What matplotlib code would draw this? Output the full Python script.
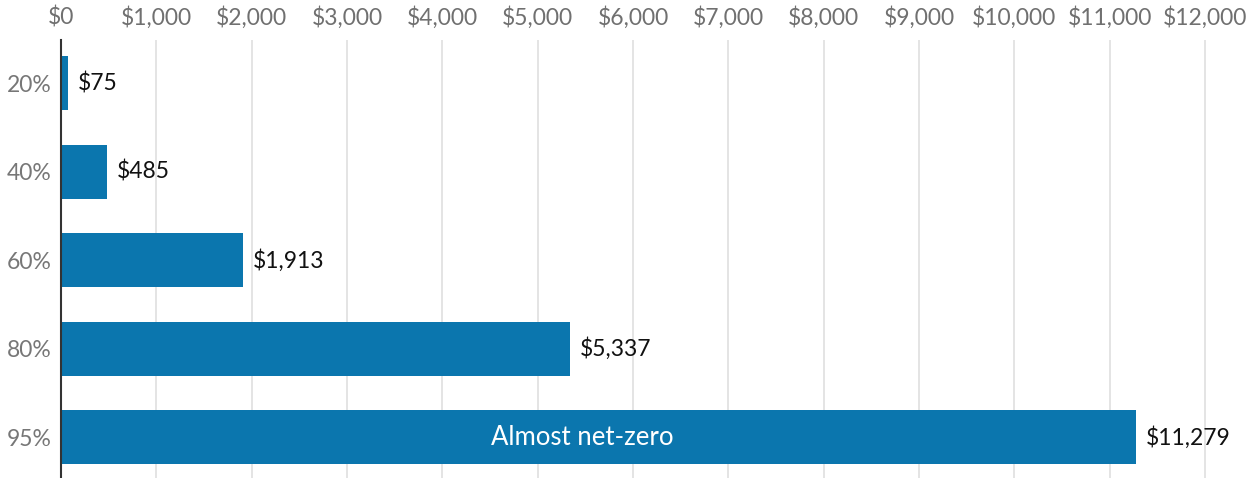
import matplotlib
matplotlib.use("Agg")
import matplotlib.pyplot as plt

categories = ["20%", "40%", "60%", "80%", "95%"]
values = [75, 485, 1913, 5337, 11279]
value_labels = ["$75", "$485", "$1,913", "$5,337", "$11,279"]
xticks = list(range(0, 12001, 1000))
xtick_labels = ["$0", "$1,000", "$2,000", "$3,000", "$4,000", "$5,000", "$6,000",
                "$7,000", "$8,000", "$9,000", "$10,000", "$11,000", "$12,000"]
inner_label = "Almost net-zero"

plt.rcParams["font.family"] = ["Lato", "DejaVu Sans"]

fig = plt.figure(figsize=(12.56, 4.78), dpi=100)
ax = fig.add_axes([61 / 1256, 0.0, 1 - 61 / 1256, (478 - 40) / 478])

bar_color = "#0b76ae"
ypos = list(range(len(categories)))
ax.barh(ypos, values, height=0.61, color=bar_color, zorder=3)

ax.set_xlim(0, 12534)
ax.set_ylim(4.46, -0.49)

ax.set_xticks(xticks)
ax.set_xticklabels(xtick_labels)
ax.xaxis.tick_top()
ax.tick_params(axis="x", length=0, pad=8, labelsize=16.5, labelcolor="#707070")
ax.set_yticks(ypos)
ax.set_yticklabels(categories)
ax.tick_params(axis="y", length=0, pad=7, labelsize=16.5, labelcolor="#777777")

ax.grid(axis="x", color="#e2e2e2", linewidth=1.3, zorder=0)
ax.grid(axis="y", visible=False)
for s in ["top", "right", "bottom"]:
    ax.spines[s].set_visible(False)
ax.spines["left"].set_color("#333333")
ax.spines["left"].set_linewidth(1.5)
ax.spines["left"].set_zorder(4)

for y, v, lab in zip(ypos, values, value_labels):
    ax.annotate(lab, (v, y), xytext=(7, 0), textcoords="offset points",
                va="center", ha="left", fontsize=16.5, color="#111111")

ax.text(values[-1] * 0.485, ypos[-1], inner_label, ha="center", va="center",
        fontsize=18.5, color="white", zorder=5)

fig.savefig("out.png", dpi=100)
